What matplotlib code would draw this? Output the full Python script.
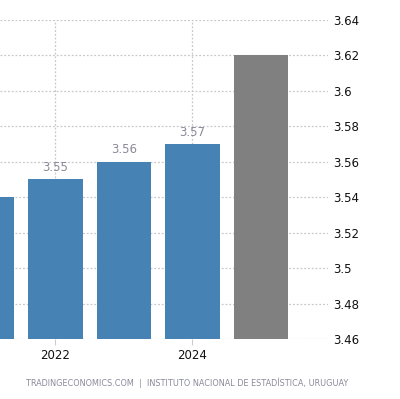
import matplotlib
matplotlib.use("Agg")
import matplotlib.pyplot as plt
from matplotlib.ticker import FuncFormatter

years = [2021, 2022, 2023, 2024, 2025]
values = [3.54, 3.55, 3.56, 3.57, 3.62]
colors = ["#4682b4", "#4682b4", "#4682b4", "#4682b4", "#808080"]
labeled = [False, True, True, True, False]
yticks = [3.46, 3.48, 3.50, 3.52, 3.54, 3.56, 3.58, 3.60, 3.62, 3.64]
xticks = [2022, 2024]
source = "TRADINGECONOMICS.COM  |  INSTITUTO NACIONAL DE ESTADÍSTICA, URUGUAY"

fig = plt.figure(figsize=(4.0, 3.99), dpi=100)
ax = fig.add_axes([0.0, 0.1504, 0.82, 0.80])

ax.bar(years, [v - 3.46 for v in values], bottom=3.46, width=0.8, color=colors, zorder=2)
for y, v, lab in zip(years, values, labeled):
    if lab:
        ax.text(y, v + 0.003, f"{v:.2f}", ha="center", va="bottom",
                fontsize=8.5, color="#8a8a9a", zorder=3)

ax.set_xlim(2021.19, 2025.98)
ax.set_ylim(3.46, 3.64)
ax.set_yticks(yticks)
ax.yaxis.set_major_formatter(FuncFormatter(lambda v, p: f"{v:.2f}".rstrip("0").rstrip(".")))
ax.yaxis.tick_right()
ax.set_xticks(xticks)
ax.set_xticklabels([str(x) for x in xticks])
ax.tick_params(axis="y", length=0, pad=4, labelsize=8.5, labelcolor="#111111")
ax.tick_params(axis="x", length=4, color="#cccccc", pad=3, labelsize=8.5, labelcolor="#111111")
ax.grid(True, linestyle=(0, (1.5, 1.5)), color="#c8c8c8", linewidth=0.9, zorder=0)
ax.set_axisbelow(True)
for s in ax.spines.values():
    s.set_visible(False)

fig.text(0.4675, 0.04, source, ha="center", va="center", fontsize=5.9, color="#8a8a9a")

fig.savefig("out.png", dpi=100)
